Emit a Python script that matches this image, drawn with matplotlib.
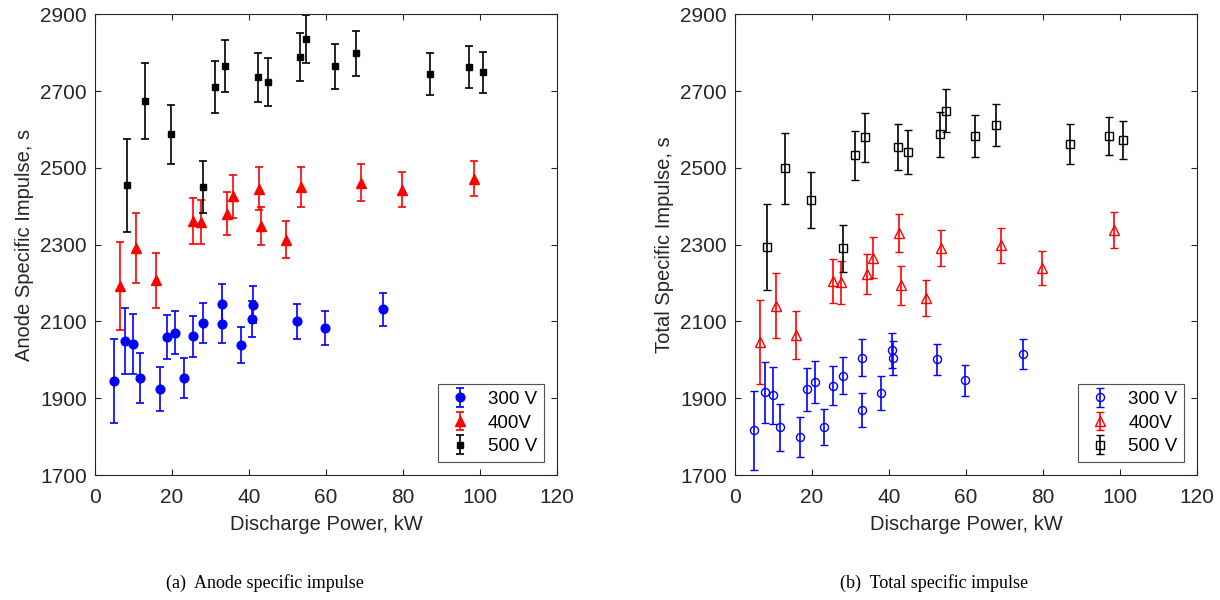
import numpy as np
import matplotlib
matplotlib.use("Agg")
import matplotlib.pyplot as plt

plt.rcParams['font.family'] = ['Liberation Sans', 'DejaVu Sans']

# discharge power, kW
p300 = [4.9, 7.9, 9.8, 11.7, 16.8, 18.6, 20.7, 23.0, 25.5, 28.1, 33.1, 32.9, 37.9, 40.7, 41.0, 52.4, 59.8, 74.7]
p400 = [6.5, 10.6, 15.9, 25.5, 27.5, 34.2, 35.8, 42.7, 43.1, 49.5, 53.5, 69.1, 79.8, 98.4]
p500 = [8.2, 13.1, 19.7, 28.1, 31.2, 33.7, 42.2, 45.0, 53.3, 54.7, 62.2, 67.7, 87.0, 97.2, 100.8]

# anode specific impulse, s
isp_a300 = [1945, 2049, 2042, 1953, 1925, 2060, 2071, 1953, 2061, 2096, 2145, 2093, 2039, 2106, 2144, 2100, 2083, 2132]
err_a300 = [110, 86, 78, 65, 57, 57, 57, 52, 53, 52, 52, 49, 47, 47, 48, 45, 44, 43]
isp_a400 = [2192, 2291, 2207, 2361, 2359, 2381, 2426, 2446, 2349, 2313, 2450, 2461, 2443, 2472]
err_a400 = [115, 92, 71, 60, 57, 55, 56, 55, 50, 49, 52, 48, 46, 46]
isp_a500 = [2455, 2674, 2587, 2450, 2710, 2765, 2736, 2723, 2788, 2835, 2764, 2798, 2744, 2762, 2749]
err_a500 = [121, 100, 77, 67, 68, 68, 64, 63, 62, 62, 59, 59, 55, 55, 53]

# total specific impulse, s
isp_t300 = [1817, 1915, 1908, 1824, 1799, 1923, 1942, 1824, 1933, 1959, 2005, 1869, 1914, 2025, 2005, 2001, 1947, 2015]
err_t300 = [103, 80, 74, 62, 52, 56, 54, 47, 50, 49, 48, 44, 44, 45, 44, 41, 40, 40]
isp_t400 = [2047, 2141, 2065, 2205, 2202, 2223, 2266, 2331, 2194, 2160, 2291, 2298, 2240, 2337]
err_t400 = [109, 84, 62, 58, 56, 52, 53, 50, 50, 47, 47, 45, 44, 47]
isp_t500 = [2294, 2499, 2416, 2290, 2533, 2580, 2554, 2541, 2587, 2649, 2582, 2612, 2562, 2583, 2573]
err_t500 = [113, 92, 73, 60, 64, 64, 60, 58, 59, 57, 55, 54, 51, 50, 50]

labels = ['300 V', '400V', '500 V']
colors = ['blue', 'red', 'black']
markers = ['o', '^', 's']
msizes = [6.3, 7, 5]
msizes_open = [5.8, 7, 5.3]

fig = plt.figure(figsize=(12.2, 6), dpi=100)
ax1 = fig.add_axes([0.0779, 0.2083, 0.3787, 0.768])
ax2 = fig.add_axes([0.6025, 0.2083, 0.3787, 0.768])

panels = [
    (ax1, [isp_a300, isp_a400, isp_a500], [err_a300, err_a400, err_a500], True, 'Anode Specific Impulse, s'),
    (ax2, [isp_t300, isp_t400, isp_t500], [err_t300, err_t400, err_t500], False, 'Total Specific Impulse, s'),
]

for ax, ys, es, filled, ylab in panels:
    for i, (p, y, e) in enumerate(zip([p300, p400, p500], ys, es)):
        c = colors[i]
        if filled:
            ax.errorbar(p, y, yerr=e, fmt=markers[i], color=c, ms=msizes[i], mfc=c, mec=c,
                        capsize=3, elinewidth=1.2, capthick=1.2, label=labels[i])
        else:
            ax.errorbar(p, y, yerr=e, fmt=markers[i], color=c, ms=msizes_open[i], mfc='none', mec=c,
                        mew=1.0, capsize=3, elinewidth=1.2, capthick=1.2, label=labels[i])
    ax.set_xlim(0, 120)
    ax.set_ylim(1700, 2900)
    ax.set_xticks(np.arange(0, 121, 20))
    ax.set_yticks(np.arange(1700, 2901, 200))
    ax.tick_params(direction='in', top=True, right=True, length=4, labelsize=15,
                   colors='#262626', width=0.8)
    ax.tick_params(axis='x', pad=9)
    ax.tick_params(axis='y', pad=6)
    for s in ax.spines.values():
        s.set_color('#262626')
        s.set_linewidth(0.8)
    ax.set_xlabel('Discharge Power, kW', fontsize=14.5, color='#262626', labelpad=6)
    ax.set_ylabel(ylab, fontsize=14.5, color='#262626', labelpad=4)
    leg = ax.legend(loc='lower right', fontsize=13.5, fancybox=False, edgecolor='#262626',
                    borderaxespad=0.7, handlelength=1.6, handletextpad=0.7, labelspacing=0.35,
                    borderpad=0.35)
    leg.get_frame().set_linewidth(0.8)

fig.text(265 / 1220, 1 - 583 / 600, '(a)  Anode specific impulse', ha='center', va='center',
         fontsize=13, family='Liberation Serif')
fig.text(934 / 1220, 1 - 583 / 600, '(b)  Total specific impulse', ha='center', va='center',
         fontsize=13, family='Liberation Serif')

plt.savefig('out.png', dpi=100)
